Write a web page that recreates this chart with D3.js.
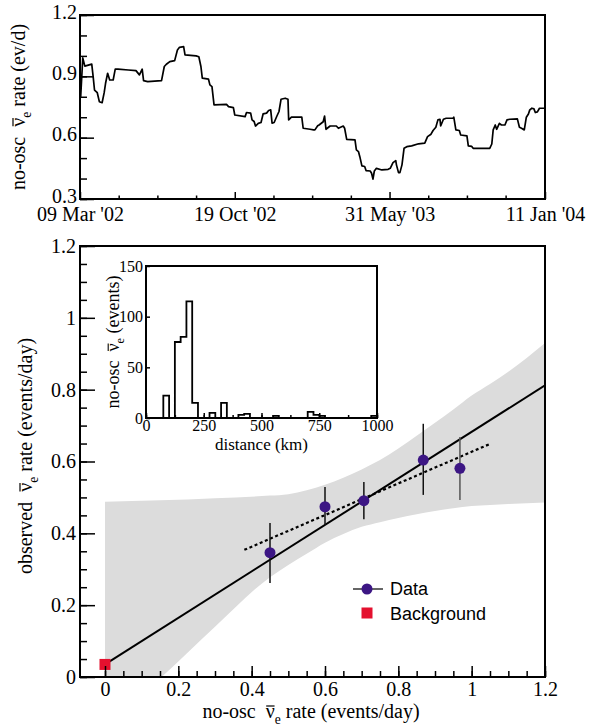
<!DOCTYPE html>
<html>
<head>
<meta charset="utf-8">
<script src="https://cdn.jsdelivr.net/npm/d3@7"></script>
<style>
  body { margin: 0; background: #fff; }
  svg { display: block; }
  text { font-family: "Liberation Serif", "Times New Roman", serif; fill: #000; white-space: pre; }
</style>
</head>
<body>
<div id="chart"></div>
<script>
const width = 595;
const height = 728;
const serif = '"Liberation Serif", "Times New Roman", serif';

// --- top panel: no-osc rate over time (days since 09 Mar 2002) ---
const rateStart = "2002-03-09";
const rateEnd = "2004-01-11";
const rateDays = [0, 1, 4, 7, 17, 19, 21, 25, 28, 32, 35, 37, 40, 43, 48, 51, 55, 70, 81, 86,
    90, 92, 98, 118, 122, 125, 130, 137, 141, 144, 150, 152, 168, 172, 175, 177, 186, 188, 191, 194,
    212, 215, 222, 224, 239, 241, 247, 249, 252, 254, 258, 262, 265, 270, 273, 276, 278, 281, 285, 288,
    291, 297, 301, 302, 306, 321, 323, 333, 338, 340, 344, 346, 352, 354, 356, 362, 371, 374, 381, 383,
    386, 398, 400, 403, 405, 408, 412, 414, 420, 422, 424, 426, 429, 437, 446, 449, 453, 457, 458, 461,
    463, 466, 469, 473, 480, 490, 499, 503, 508, 511, 515, 518, 521, 522, 526, 530, 540, 541, 544, 549,
    551, 560, 562, 567, 569, 593, 596, 598, 601, 603, 607, 610, 615, 618, 622, 633, 636, 639, 643, 646,
    649, 651, 654, 657, 659, 662, 665, 673];
const rateValues = [0.79, 0.80, 0.99, 0.95, 0.96, 0.90, 0.833, 0.82, 0.776, 0.771, 0.82, 0.866, 0.915, 0.882, 0.882, 0.935, 0.935, 0.931, 0.928, 0.907,
    0.935, 0.879, 0.874, 0.879, 0.948, 0.959, 0.972, 0.977, 1.029, 1.042, 1.045, 1.005, 1.0, 0.996, 0.948, 0.891, 0.886, 0.858, 0.85, 0.76,
    0.763, 0.752, 0.747, 0.711, 0.703, 0.723, 0.72, 0.687, 0.679, 0.657, 0.67, 0.674, 0.716, 0.72, 0.733, 0.736, 0.671, 0.674, 0.706, 0.728,
    0.788, 0.793, 0.788, 0.687, 0.70, 0.70, 0.646, 0.641, 0.638, 0.638, 0.658, 0.662, 0.678, 0.706, 0.641, 0.657, 0.657, 0.646, 0.657, 0.646,
    0.592, 0.589, 0.54, 0.532, 0.507, 0.462, 0.459, 0.439, 0.437, 0.426, 0.397, 0.437, 0.45, 0.442, 0.445, 0.45, 0.478, 0.488, 0.467, 0.429,
    0.429, 0.467, 0.548, 0.556, 0.56, 0.57, 0.573, 0.605, 0.617, 0.635, 0.651, 0.687, 0.69, 0.657, 0.69, 0.695, 0.695, 0.70, 0.638, 0.635,
    0.613, 0.609, 0.56, 0.557, 0.548, 0.548, 0.569, 0.638, 0.662, 0.641, 0.67, 0.662, 0.662, 0.687, 0.69, 0.692, 0.651, 0.646, 0.638, 0.70,
    0.716, 0.736, 0.744, 0.741, 0.723, 0.726, 0.744, 0.744];
const dateTicks = ["2002-03-09", "2002-10-19", "2003-05-31", "2004-01-11"];
const dateTickLabels = ["09 Mar '02", "19 Oct '02", "31 May '03", "11 Jan '04"];
const rateTicks = [0.3, 0.6, 0.9, 1.2];
const rateTickLabels = ["0.3", "0.6", "0.9", "1.2"];

// --- bottom panel: observed vs no-osc rate ---
const dataRate = [0.45, 0.60, 0.706, 0.868, 0.968];
const dataObserved = [0.346, 0.474, 0.491, 0.604, 0.581];
const dataErrLow = [0.262, 0.423, 0.439, 0.507, 0.493];
const dataErrHigh = [0.429, 0.529, 0.543, 0.705, 0.668];
const backgroundRate = [0];
const backgroundObserved = [0.035];
const fitX = [0, 1.2];
const fitY = [0.035, 0.812];
const dottedX = [0.38, 1.05];
const dottedY = [0.354, 0.649];
const bandX = [0, 0.15, 0.3, 0.45, 0.5, 0.55, 0.6, 0.65, 0.7, 0.75, 0.8, 0.85, 0.9, 0.95, 1.0, 1.05, 1.1, 1.2];
const bandLow = [-0.136, -0.004, 0.14, 0.278, 0.312, 0.343, 0.374, 0.398, 0.418, 0.431, 0.443, 0.453, 0.462, 0.47, 0.476, 0.479, 0.482, 0.486];
const bandHigh = [0.488, 0.492, 0.498, 0.505, 0.509, 0.52, 0.535, 0.555, 0.578, 0.604, 0.636, 0.672, 0.708, 0.745, 0.784, 0.816, 0.85, 0.93];
const mainTicks = [0, 0.2, 0.4, 0.6, 0.8, 1, 1.2];
const mainTickLabels = ["0", "0.2", "0.4", "0.6", "0.8", "1", "1.2"];

// --- inset: distance histogram, 25 km bins ---
const histBinWidth = 25;
const histCounts = [0, 0, 0, 22, 0, 75, 80, 115, 15, 0,
    0, 5, 0, 15, 0, 0, 3, 4, 0, 0,
    0, 0, 2, 0, 0, 0, 0, 0, 6, 3,
    2, 0, 0, 0, 0, 0, 0, 0, 0, 2];
const insetXTicks = [0, 250, 500, 750, 1000];
const insetYTicks = [0, 50, 100, 150];

const topBox = {left: 80, right: 545, top: 15, bottom: 199};
const mainBox = {left: 80, right: 545, top: 246, bottom: 677};
const insetBox = {left: 146, right: 377, top: 266, bottom: 418};

const svg = d3.select("#chart").append("svg").attr("width", width).attr("height", height);

/**
 * Draw one set of inward ticks, with optional labels.
 */
function drawTicks(axisFn, scale, values, size, pos, labels, fontSize, padding) {
    const axis = axisFn(scale).tickValues(values).tickSizeInner(-size).tickSizeOuter(0)
        .tickPadding(padding || 3)
        .tickFormat(labels ? (d, i) => labels[i] : "");
    const g = svg.append("g").attr("transform", pos).call(axis)
        .attr("font-family", serif).attr("font-size", fontSize || 20);
    g.select(".domain").remove();
    g.selectAll("line").attr("stroke", "#000").attr("stroke-width", 1.5);
    g.selectAll("text").attr("fill", "#000");
    return g;
}

function frame(box) {
    svg.append("rect")
        .attr("x", box.left).attr("y", box.top)
        .attr("width", box.right - box.left).attr("height", box.bottom - box.top)
        .attr("fill", "none").attr("stroke", "#000").attr("stroke-width", 2);
}

/**
 * Axis title with a nu-bar sub e in the middle; the bar is drawn over the nu glyph.
 */
function nuTitle(transform, before, after, size) {
    const g = svg.append("g").attr("transform", transform);
    const text = g.append("text").attr("text-anchor", "middle").attr("font-size", size);
    text.append("tspan").text(before + "\u03BD");
    text.append("tspan").attr("dy", size * 0.28).attr("font-size", size * 0.68).text("e");
    text.append("tspan").attr("dy", -size * 0.28).text(after);
    const node = text.node();
    const i = before.length;
    const x0 = node.getStartPositionOfChar(i).x;
    const x1 = node.getEndPositionOfChar(i).x;
    g.append("line")
        .attr("x1", x0 + 0.5).attr("x2", x1 - 0.2)
        .attr("y1", -size * 0.6).attr("y2", -size * 0.6)
        .attr("stroke", "#000").attr("stroke-width", size * 0.06);
}

function range(a, b, step) {
    return d3.range(Math.round((b - a) / step) + 1).map(i => +(a + i * step).toFixed(4));
}

// ---------------- top panel ----------------
const parse = d3.utcParse("%Y-%m-%d");
const t0 = parse(rateStart);
const xTime = d3.scaleUtc().domain([t0, parse(rateEnd)]).range([topBox.left, topBox.right]);
const yRate = d3.scaleLinear().domain([0.3, 1.2]).range([topBox.bottom, topBox.top]);

const majorDates = dateTicks.map(parse);
const minorDates = [];
majorDates.slice(0, -1).forEach(d => [1, 2, 3].forEach(k => minorDates.push(d3.utcDay.offset(d, 56 * k))));

drawTicks(d3.axisBottom, xTime, minorDates, 3.5, `translate(0,${topBox.bottom})`);
drawTicks(d3.axisBottom, xTime, majorDates, 7, `translate(0,${topBox.bottom})`, dateTickLabels, 20, 8);
drawTicks(d3.axisLeft, yRate, range(0.3, 1.2, 0.1), 7, `translate(${topBox.left},0)`);
drawTicks(d3.axisLeft, yRate, rateTicks, 14, `translate(${topBox.left},0)`, rateTickLabels, 20, 3)
    .selectAll("text").attr("dy", "0.16em");

const ratePoints = rateDays.map((d, i) => [d3.utcDay.offset(t0, d), rateValues[i]]);
svg.append("path")
    .attr("d", d3.line().x(d => xTime(d[0])).y(d => yRate(d[1]))(ratePoints))
    .attr("fill", "none").attr("stroke", "#000").attr("stroke-width", 1.7)
    .attr("stroke-linejoin", "round");
frame(topBox);

nuTitle(`translate(25,${(topBox.top + topBox.bottom) / 2}) rotate(-90)`, "no-osc  ", " rate (ev/d)", 20);

// ---------------- bottom panel ----------------
const x = d3.scaleLinear().domain([0, 1.2]).range([105, mainBox.right]);
const y = d3.scaleLinear().domain([0, 1.2]).range([mainBox.bottom, mainBox.top]);

svg.append("clipPath").attr("id", "plot-clip").append("rect")
    .attr("x", mainBox.left).attr("y", mainBox.top)
    .attr("width", mainBox.right - mainBox.left).attr("height", mainBox.bottom - mainBox.top);

const plot = svg.append("g").attr("clip-path", "url(#plot-clip)");

plot.append("path")
    .attr("d", d3.area()
        .x((d, i) => x(bandX[i]))
        .y0((d, i) => y(bandLow[i]))
        .y1((d, i) => y(bandHigh[i]))
        .curve(d3.curveMonotoneX)(bandX))
    .attr("fill", "#dcdcdc");

const line = d3.line().x(d => x(d[0])).y(d => y(d[1]));
plot.append("path")
    .attr("d", line(fitX.map((v, i) => [v, fitY[i]])))
    .attr("stroke", "#000").attr("stroke-width", 2).attr("fill", "none");
plot.append("path")
    .attr("d", line(dottedX.map((v, i) => [v, dottedY[i]])))
    .attr("stroke", "#000").attr("stroke-width", 2.2).attr("fill", "none")
    .attr("stroke-dasharray", "3,2.6");

plot.append("g").selectAll("line").data(dataRate).enter().append("line")
    .attr("x1", d => x(d)).attr("x2", d => x(d))
    .attr("y1", (d, i) => y(dataErrLow[i])).attr("y2", (d, i) => y(dataErrHigh[i]))
    .attr("stroke", (d, i) => i === 4 ? "#555" : "#111").attr("stroke-width", 1.5);
plot.append("g").selectAll("circle").data(dataRate).enter().append("circle")
    .attr("cx", d => x(d)).attr("cy", (d, i) => y(dataObserved[i]))
    .attr("r", 5.5).attr("fill", "#3c1684");
plot.append("g").selectAll("rect").data(backgroundRate).enter().append("rect")
    .attr("x", d => x(d) - 5.5).attr("y", (d, i) => y(backgroundObserved[i]) - 5.5)
    .attr("width", 11).attr("height", 11).attr("fill", "#e4102e");

drawTicks(d3.axisBottom, x, range(0, 1.2, 0.05), 6, `translate(0,${mainBox.bottom})`);
drawTicks(d3.axisBottom, x, mainTicks, 11, `translate(0,${mainBox.bottom})`, mainTickLabels, 20, 5);
drawTicks(d3.axisLeft, y, range(0, 1.2, 0.05), 7, `translate(${mainBox.left},0)`);
drawTicks(d3.axisLeft, y, mainTicks, 15, `translate(${mainBox.left},0)`, mainTickLabels, 20, 4);
frame(mainBox);

nuTitle("translate(32,456) rotate(-90)", "observed  ", " rate (events/day)", 20);
nuTitle("translate(311,718)", "no-osc  ", " rate (events/day)", 20);

// legend
const legend = svg.append("g").attr("font-size", 18);
const sans = '"Liberation Sans", Arial, sans-serif';
legend.append("line").attr("x1", 353).attr("x2", 383).attr("y1", 589).attr("y2", 589)
    .attr("stroke", "#666").attr("stroke-width", 2);
legend.append("circle").attr("cx", 367).attr("cy", 589).attr("r", 5.5).attr("fill", "#3c1684");
legend.append("text").attr("x", 390).attr("y", 595).style("font-family", sans).text("Data");
legend.append("rect").attr("x", 361.5).attr("y", 607.5).attr("width", 11).attr("height", 11).attr("fill", "#e4102e");
legend.append("text").attr("x", 390).attr("y", 620).style("font-family", sans).text("Background");

// ---------------- inset ----------------
svg.append("rect")
    .attr("x", insetBox.left).attr("y", insetBox.top)
    .attr("width", insetBox.right - insetBox.left).attr("height", insetBox.bottom - insetBox.top)
    .attr("fill", "#fff");
const xi = d3.scaleLinear().domain([0, 1000]).range([insetBox.left, insetBox.right]);
const yi = d3.scaleLinear().domain([0, 150]).range([insetBox.bottom, insetBox.top]);

const histPoints = histCounts.map((c, i) => [i * histBinWidth, c]);
histPoints.push([histCounts.length * histBinWidth, histCounts[histCounts.length - 1]]);
svg.append("path")
    .attr("d", d3.line().x(d => xi(d[0])).y(d => yi(d[1])).curve(d3.curveStepAfter)(histPoints))
    .attr("fill", "none").attr("stroke", "#000").attr("stroke-width", 1.8);

drawTicks(d3.axisBottom, xi, range(0, 1000, 125), 3, `translate(0,${insetBox.bottom})`);
drawTicks(d3.axisBottom, xi, insetXTicks, 5, `translate(0,${insetBox.bottom})`, insetXTicks.map(String), 16, 2);
drawTicks(d3.axisLeft, yi, insetYTicks, 4, `translate(${insetBox.left},0)`, insetYTicks.map(String), 16, 3);
frame(insetBox);

svg.append("text")
    .attr("x", (insetBox.left + insetBox.right) / 2).attr("y", 450)
    .attr("text-anchor", "middle").attr("font-size", 17)
    .text("distance (km)");
nuTitle(`translate(119,${(insetBox.top + insetBox.bottom) / 2}) rotate(-90)`, "no-osc  ", " (events)", 18);
</script>
</body>
</html>
